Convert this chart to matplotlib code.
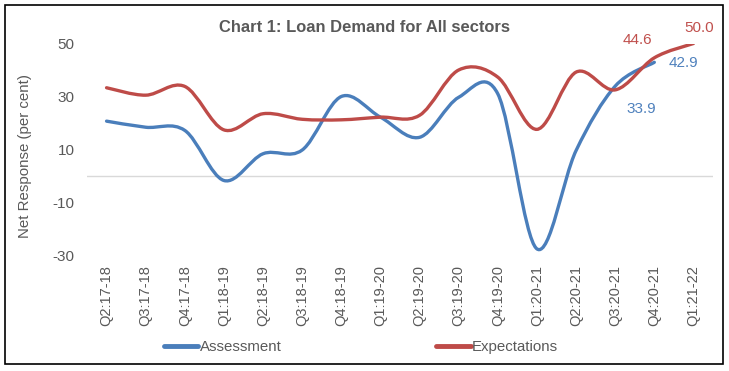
import numpy as np
import matplotlib.pyplot as plt
from matplotlib.path import Path
from matplotlib.patches import PathPatch, Rectangle
from matplotlib.lines import Line2D

plt.rcParams['font.family'] = ['Liberation Sans', 'DejaVu Sans']
plt.rcParams['axes.unicode_minus'] = False

# Data
quarters = ['Q2:17-18', 'Q3:17-18', 'Q4:17-18', 'Q1:18-19', 'Q2:18-19', 'Q3:18-19',
            'Q4:18-19', 'Q1:19-20', 'Q2:19-20', 'Q3:19-20', 'Q4:19-20', 'Q1:20-21',
            'Q2:20-21', 'Q3:20-21', 'Q4:20-21', 'Q1:21-22']
assessment = [20.7, 18.4, 17.2, -1.7, 8.4, 9.8, 30.0, 22.2, 14.6, 29.7, 31.0,
              -27.5, 9.6, 33.9, 42.9]
expectations = [33.3, 30.5, 33.8, 17.4, 23.5, 21.4, 21.2, 22.2, 22.9, 40.0, 37.3,
                17.6, 39.2, 32.5, 44.6, 50.0]

blue = '#4A7EBB'
red = '#BE4B48'
grey = '#595959'


def smooth_path(x, y):
    # Excel-style smoothed line: cubic Bezier through each point
    pts = np.column_stack([x, y]).astype(float)
    n = len(pts)
    verts = [pts[0]]
    codes = [Path.MOVETO]
    for i in range(n - 1):
        p0 = pts[max(i - 1, 0)]
        p1 = pts[i]
        p2 = pts[i + 1]
        p3 = pts[min(i + 2, n - 1)]
        verts += [p1 + (p2 - p0) / 6, p2 - (p3 - p1) / 6, p2]
        codes += [Path.CURVE4] * 3
    return Path(verts, codes)


fig = plt.figure(figsize=(7.29, 3.71), dpi=100)
ax = fig.add_axes([87 / 729, 1 - 255.5 / 371, (713 - 87) / 729, (255.5 - 43.5) / 371])

x_a = np.arange(len(assessment))
x_e = np.arange(len(expectations))

ax.axhline(0, color='#D9D9D9', lw=1, zorder=1)
ax.add_patch(PathPatch(smooth_path(x_a, assessment), fill=False, edgecolor=blue,
                       lw=2.4, capstyle='round', zorder=3))
ax.add_patch(PathPatch(smooth_path(x_e, expectations), fill=False, edgecolor=red,
                       lw=2.4, capstyle='round', zorder=3))

ax.set_xlim(-0.5, len(quarters) - 0.5)
ax.set_ylim(-30, 50)
ax.set_yticks([-30, -10, 10, 30, 50])
ax.set_xticks(np.arange(len(quarters)))
ax.set_xticklabels(quarters, rotation=90, fontsize=10.5, color=grey)
ax.tick_params(axis='x', length=0, pad=7)
ax.tick_params(axis='y', length=0, pad=9, labelsize=11, labelcolor=grey)
for s in ax.spines.values():
    s.set_visible(False)

# data labels
ax.annotate(f'{assessment[13]:.1f}', xy=(13, assessment[13]), xytext=(26, -23),
            textcoords='offset pixels', ha='center', va='center', color='#4F81BD', fontsize=11)
ax.annotate(f'{assessment[14]:.1f}', xy=(14, assessment[14]), xytext=(29, -1),
            textcoords='offset pixels', ha='center', va='center', color='#4F81BD', fontsize=11)
ax.annotate(f'{expectations[14]:.1f}', xy=(14, expectations[14]), xytext=(-17, 18),
            textcoords='offset pixels', ha='center', va='center', color='#C0504D', fontsize=11)
ax.annotate(f'{expectations[15]:.1f}', xy=(15, expectations[15]), xytext=(6, 16),
            textcoords='offset pixels', ha='center', va='center', color='#C0504D', fontsize=11)

fig.text(364.5 / 729, 1 - 27 / 371, 'Chart 1: Loan Demand for All sectors', ha='center',
         va='center', fontsize=11.9, fontweight='bold', color=grey)
fig.text(25 / 729, 1 - 156 / 371, 'Net Response (per cent)', rotation=90, ha='center',
         va='center', fontsize=10.8, color=grey)

handles = [Line2D([], [], color=blue, lw=3.5, solid_capstyle='round'),
           Line2D([], [], color=red, lw=3.5, solid_capstyle='round')]
fig.legend(handles, ['Assessment', 'Expectations'], loc='center', ncol=2,
           bbox_to_anchor=(361 / 729, 1 - 347 / 371), frameon=False, fontsize=10.8,
           handlelength=2.3, handletextpad=0.1, columnspacing=10.3, labelcolor=grey)

fig.patches.append(Rectangle((5 / 729, 1 - 364 / 371), 718 / 729, 359 / 371,
                             transform=fig.transFigure, fill=False, edgecolor='black', lw=1.2))

fig.savefig('out.png', dpi=100)
